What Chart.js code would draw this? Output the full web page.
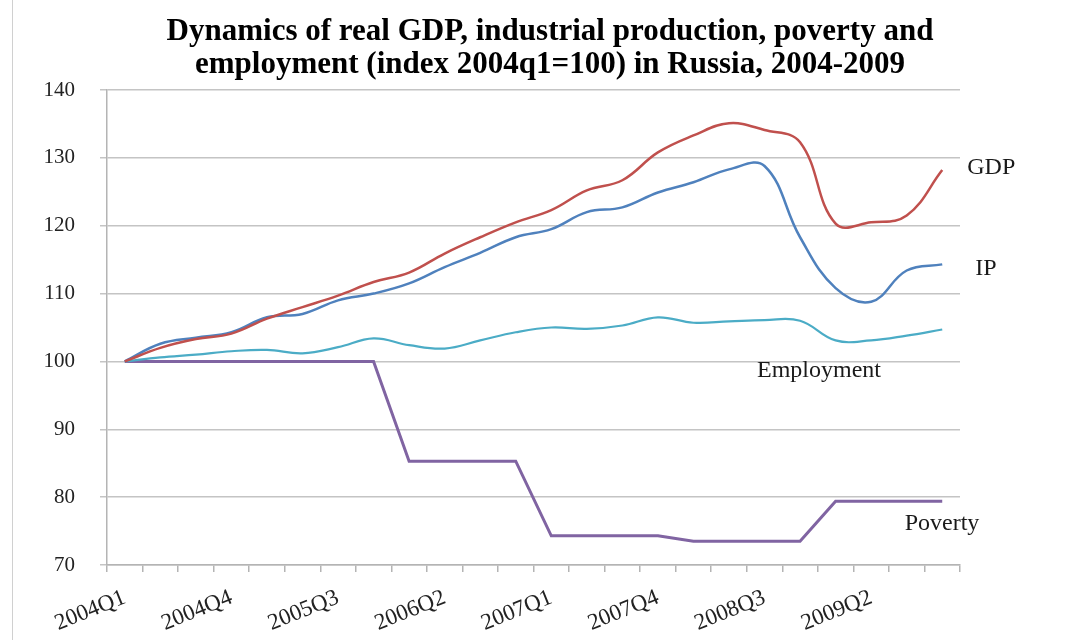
<!DOCTYPE html>
<html>
<head>
<meta charset="utf-8">
<script src="https://cdn.jsdelivr.net/npm/chart.js@4.4.1/dist/chart.umd.min.js"></script>
<style>
  html, body { margin: 0; padding: 0; background: #ffffff; }
  #wrap { position: relative; width: 1077px; height: 640px; }
  #frame { position: absolute; left: 12px; top: 0; width: 1px; height: 640px; background: #d0d0d0; }
</style>
</head>
<body>
<div id="wrap">
  <canvas id="c" width="1077" height="640"></canvas>
  <div id="frame"></div>
</div>
<script>
// ---- data ----
const quarters = [
  '2004Q1','2004Q2','2004Q3','2004Q4',
  '2005Q1','2005Q2','2005Q3','2005Q4',
  '2006Q1','2006Q2','2006Q3','2006Q4',
  '2007Q1','2007Q2','2007Q3','2007Q4',
  '2008Q1','2008Q2','2008Q3','2008Q4',
  '2009Q1','2009Q2','2009Q3','2009Q4'
];
const shownTickLabels = ['2004Q1','2004Q4','2005Q3','2006Q2','2007Q1','2007Q4','2008Q3','2009Q2'];
const gdp = [100, 102.0, 103.3, 104.1, 106.3, 108.0, 109.7, 111.7, 113.1, 115.9, 118.3, 120.5,
             122.3, 125.2, 126.7, 130.8, 133.3, 135.1, 134.1, 132.3, 120.3, 120.5, 121.5, 128.2];
const ip = [100, 102.6, 103.5, 104.3, 106.5, 107.0, 109.0, 110.0, 111.5, 113.9, 116.0, 118.3,
            119.5, 122.0, 122.7, 124.9, 126.4, 128.3, 128.8, 118.3, 110.8, 108.8, 113.4, 114.3];
const employment = [100, 100.6, 101.0, 101.5, 101.7, 101.2, 102.1, 103.4, 102.4, 101.9, 103.1, 104.3,
                    105.0, 104.8, 105.3, 106.5, 105.7, 105.9, 106.1, 106.0, 103.1, 103.1, 103.8, 104.7];
const poverty = [100, 100, 100, 100, 100, 100, 100, 100, 85.3, 85.3, 85.3, 85.3,
                 74.3, 74.3, 74.3, 74.3, 73.5, 73.5, 73.5, 73.5, 79.4, 79.4, 79.4, 79.4];
const yTicks = [70, 80, 90, 100, 110, 120, 130, 140];
const titleLines = [
  'Dynamics of real GDP, industrial production, poverty and',
  'employment (index 2004q1=100) in Russia, 2004-2009'
];
const seriesLabels = ['GDP', 'IP', 'Employment', 'Poverty'];

// ---- annotation placement (config, anchored to scales) ----
const annotations = [
  { text: seriesLabels[0], index: 23, value: 128.5, dx: 25 },
  { text: seriesLabels[1], index: 23, value: 113.7, dx: 33 },
  { text: seriesLabels[2], index: 17, value: 98.7, dx: 28 },
  { text: seriesLabels[3], index: 22, value: 76.1, dx: -2 }
];

const SERIF = '"Liberation Serif", "Times New Roman", serif';

const textPlugin = {
  id: 'textPlugin',
  afterDraw(chart) {
    const ctx = chart.ctx;
    const xs = chart.scales.x, ys = chart.scales.y;
    ctx.save();
    // title
    ctx.fillStyle = '#000000';
    ctx.font = 'bold 31px ' + SERIF;
    ctx.textAlign = 'center';
    ctx.textBaseline = 'middle';
    titleLines.forEach((t, i) => ctx.fillText(t, 550, 32 + i * 33));
    // series labels
    ctx.font = '24px ' + SERIF;
    ctx.textAlign = 'left';
    ctx.fillStyle = '#1a1a1a';
    annotations.forEach(a => {
      const x = xs.getPixelForValue(a.index) + a.dx;
      const y = ys.getPixelForValue(a.value);
      ctx.fillText(a.text, x, y);
    });
    ctx.restore();
  }
};

const ds = (label, data, color, width, tension) => ({
  label, data, borderColor: color, backgroundColor: color,
  borderWidth: width, pointRadius: 0, tension: tension, fill: false,
  cubicInterpolationMode: 'default'
});

new Chart(document.getElementById('c'), {
  type: 'line',
  data: {
    labels: quarters,
    datasets: [
      ds(seriesLabels[0], gdp, '#C0504D', 2.5, 0.4),
      ds(seriesLabels[1], ip, '#4F81BD', 2.5, 0.4),
      ds(seriesLabels[2], employment, '#4BACC6', 2.2, 0.4),
      ds(seriesLabels[3], poverty, '#8064A2', 3, 0)
    ]
  },
  options: {
    responsive: false,
    animation: false,
    layout: { padding: { top: 90, right: 117, bottom: 0, left: 0 } },
    plugins: { legend: { display: false }, title: { display: false }, tooltip: { enabled: false } },
    scales: {
      x: {
        type: 'category',
        offset: true,
        afterFit(scale) { scale.height = 75; },
        border: { color: '#b4b4b4', width: 1.5 },
        grid: { offset: true, drawOnChartArea: false, drawTicks: true, tickLength: 7, color: '#b4b4b4', lineWidth: 1.5 },
        ticks: {
          autoSkip: false,
          maxRotation: 22, minRotation: 22,
          padding: 12,
          color: '#222222',
          font: { family: SERIF, size: 23 },
          callback(v) { const l = quarters[v]; return shownTickLabels.includes(l) ? l : ''; }
        }
      },
      y: {
        min: yTicks[0], max: yTicks[yTicks.length - 1],
        afterFit(scale) { scale.width = 107; },
        afterBuildTicks(scale) { scale.ticks = yTicks.map(v => ({ value: v })); },
        border: { color: '#b4b4b4', width: 1.5 },
        grid: { color: '#c4c4c4', lineWidth: 1.5, tickLength: 7 },
        ticks: {
          padding: 25,
          color: '#222222',
          font: { family: SERIF, size: 21 }
        }
      }
    }
  },
  plugins: [textPlugin]
});
</script>
</body>
</html>
